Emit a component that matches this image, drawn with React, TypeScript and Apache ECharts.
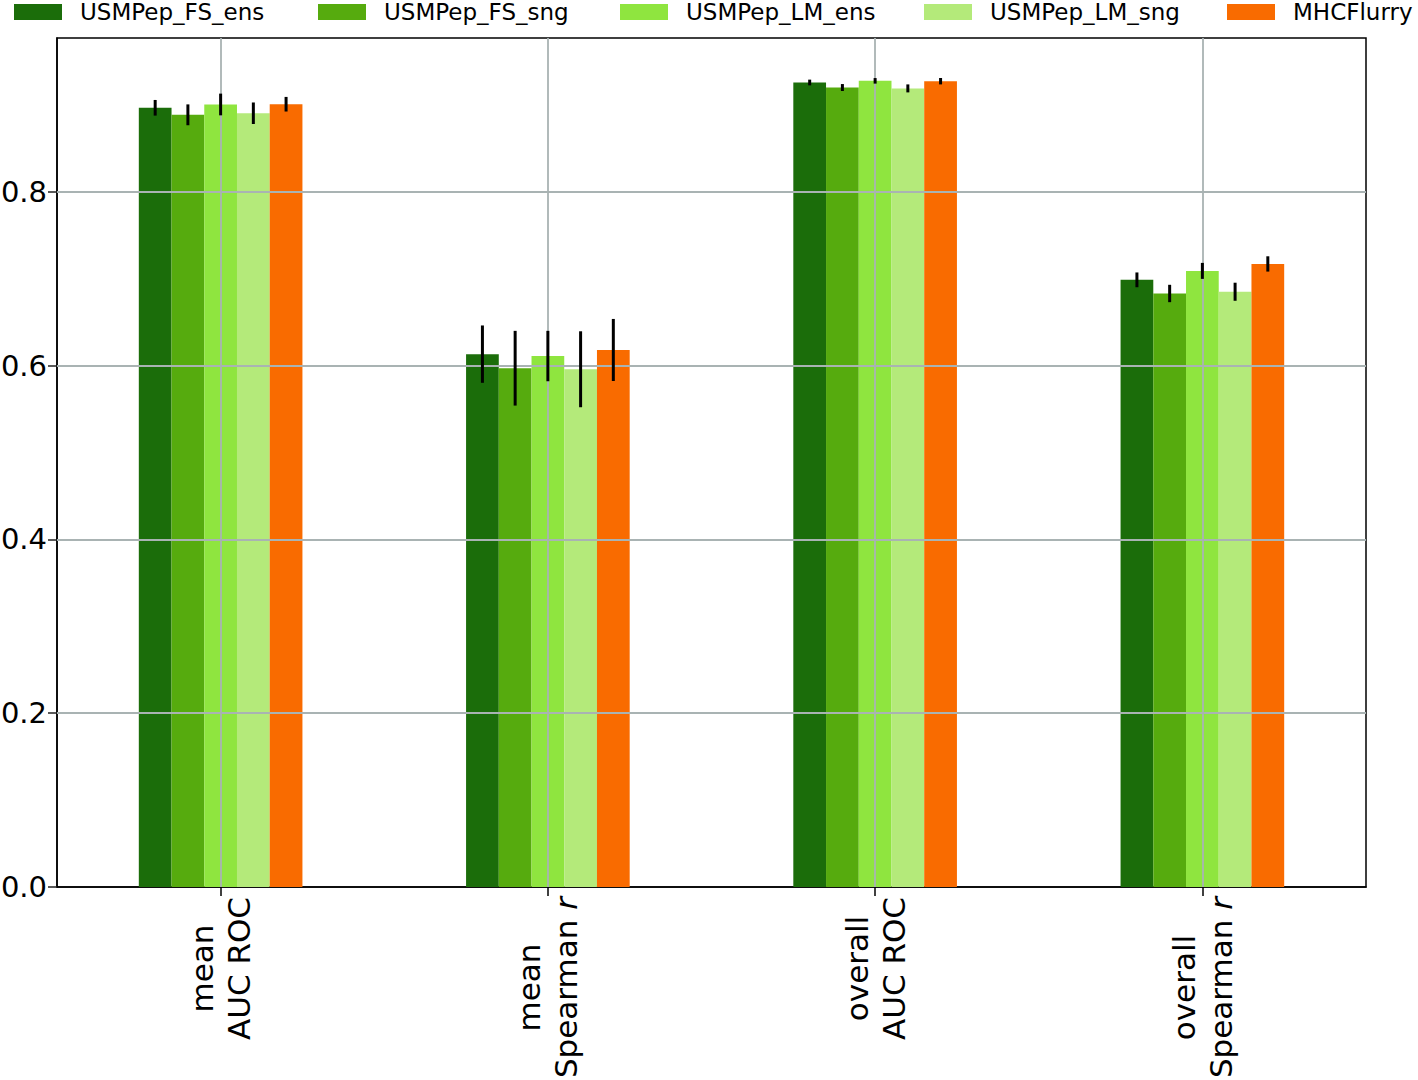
import React, { useEffect, useRef } from "react";
import * as echarts from "echarts";

const categories = ["mean\nAUC ROC", "mean\nSpearman r", "overall\nAUC ROC", "overall\nSpearman r"];
const seriesNames = ["USMPep_FS_ens", "USMPep_FS_sng", "USMPep_LM_ens", "USMPep_LM_sng", "MHCFlurry"];
const colors = ["#1b6d0a", "#56ab0e", "#8fe53f", "#b4ea7a", "#f96b00"];

const fsEns = [0.8967, 0.6132, 0.9258, 0.6987];
const fsSng = [0.8886, 0.597, 0.92, 0.683];
const lmEns = [0.9005, 0.611, 0.9277, 0.709];
const lmSng = [0.8904, 0.5958, 0.919, 0.685];
const mhc = [0.9008, 0.618, 0.9273, 0.717];

const fsEnsErr = [0.009, 0.033, 0.0033, 0.0085];
const fsSngErr = [0.012, 0.043, 0.004, 0.01];
const lmEnsErr = [0.0125, 0.029, 0.0032, 0.0092];
const lmSngErr = [0.0124, 0.0437, 0.0046, 0.0104];
const mhcErr = [0.0084, 0.0357, 0.0037, 0.0088];

const yTicks = [0, 0.2, 0.4, 0.6, 0.8];
const yMax = 0.977;

const values = [fsEns, fsSng, lmEns, lmSng, mhc];
const errors = [fsEnsErr, fsSngErr, lmEnsErr, lmSngErr, mhcErr];

const FONT = "DejaVu Sans";
const XFS = 31;
const MIDDLE = 2; // the centred bar series in each group

function measure(text: string, italic = false): number {
  const c = document.createElement("canvas");
  const ctx = c.getContext("2d");
  if (!ctx) return text.length * XFS * 0.6;
  ctx.font = `${italic ? "italic " : ""}${XFS}px "${FONT}"`;
  return ctx.measureText(text).width;
}

function lineWidth(line: string): number {
  if (line.endsWith(" r")) return measure(line.slice(0, -1)) + measure("r", true);
  return measure(line);
}

export default function App() {
  const ref = useRef<HTMLDivElement>(null);
  useEffect(() => {
    document.body.style.margin = "0";
    document.body.style.overflow = "hidden";
    if (!ref.current) return;
    const chart = echarts.init(ref.current, null, { renderer: "svg" });

    const rich: any = {
      n: { fontSize: XFS, fontFamily: FONT, color: "#000", lineHeight: 37 },
      i: { fontSize: XFS, fontFamily: FONT, fontStyle: "italic", color: "#000", lineHeight: 37 },
    };
    categories.forEach((cat, idx) => {
      const w = Math.max(...cat.split("\n").map(lineWidth));
      rich["w" + idx] = { fontSize: XFS, fontFamily: FONT, color: "#000", lineHeight: 37, width: w, align: "center" };
    });

    const formatLabel = (value: string, idx: number) => {
      const lines = value.split("\n");
      const w = Math.max(...lines.map(lineWidth));
      return lines
        .map((l) => {
          if (l.endsWith(" r") && Math.abs(lineWidth(l) - w) < 0.5) {
            return `{n|${l.slice(0, -1)}}{i|r}`;
          }
          return `{w${idx}|${l}}`;
        })
        .join("\n");
    };

    const barSeries = seriesNames.map((name, s) => ({
      name,
      type: "bar",
      data: values[s],
      barWidth: "10%",
      barGap: "0%",
      itemStyle: { color: colors[s] },
      z: 2,
      ...(s === MIDDLE
        ? {
            markLine: {
              silent: true,
              symbol: "none",
              z: 5,
              label: { show: false },
              emphasis: { disabled: true },
              lineStyle: { color: "#a9b3b3", width: 1.8, type: "solid" },
              data: [
                ...yTicks.filter((t) => t > 0).map((t) => ({ yAxis: t })),
                ...categories.map((_, i) => ({ xAxis: i })),
              ],
            },
          }
        : {}),
    }));

    const errSeries = seriesNames.map((name, s) => ({
      name: name + "_err",
      type: "custom",
      z: 10,
      silent: true,
      data: categories.map((_, i) => [i, values[s][i], errors[s][i]]),
      encode: { x: 0, y: 1 },
      renderItem: (params: any, api: any) => {
        const ci = api.value(0);
        const v = api.value(1);
        const e = api.value(2);
        const c = api.coord([ci, v]);
        const band = api.size([1, 0])[0];
        const x = c[0] + (s - MIDDLE) * band * 0.1;
        const y1 = api.coord([ci, v + e])[1];
        const y2 = api.coord([ci, v - e])[1];
        return {
          type: "line",
          shape: { x1: x, y1, x2: x, y2 },
          style: { stroke: "#000", lineWidth: 3 },
          z2: 10,
        };
      },
    }));

    const legendLefts = [14, 318, 620, 924, 1227];
    const legends = seriesNames.map((name, s) => ({
      data: [name],
      left: legendLefts[s],
      top: 0,
      padding: 0,
      icon: "rect",
      itemWidth: 48,
      itemHeight: 16,
      selectedMode: false,
      textStyle: {
        fontFamily: FONT,
        fontSize: 23,
        color: "#000",
        lineHeight: 24,
        padding: [0, 0, 0, 13],
      },
    }));

    chart.setOption({
      animation: false,
      backgroundColor: "#fff",
      textStyle: { fontFamily: FONT },
      legend: legends,
      grid: {
        left: 57,
        right: 52,
        top: 38,
        bottom: 193,
        outerBoundsMode: "none",
        containLabel: false,
        show: true,
        borderColor: "#000",
        borderWidth: 1.5,
        backgroundColor: "transparent",
      },
      xAxis: {
        type: "category",
        data: categories,
        axisLine: { lineStyle: { color: "#000", width: 1.5 } },
        axisTick: { show: true, alignWithLabel: true, length: 9, lineStyle: { color: "#000", width: 1.5 } },
        splitLine: { show: false },
        axisLabel: {
          rotate: 90,
          margin: 10,
          interval: 0,
          formatter: formatLabel,
          rich,
        },
      },
      yAxis: {
        type: "value",
        min: 0,
        max: yMax,
        axisLine: { show: true, lineStyle: { color: "#000", width: 1.5 } },
        axisTick: { show: true, length: 9, customValues: yTicks, lineStyle: { color: "#222", width: 1.5 } },
        splitLine: { show: false },
        axisLabel: {
          customValues: yTicks,
          formatter: (v: number) => v.toFixed(1),
          fontSize: 29,
          fontFamily: FONT,
          color: "#000",
          margin: 10,
        },
      },
      series: [...barSeries, ...errSeries],
    });

    return () => chart.dispose();
  }, []);

  return <div ref={ref} style={{ width: 1418, height: 1080 }} />;
}
